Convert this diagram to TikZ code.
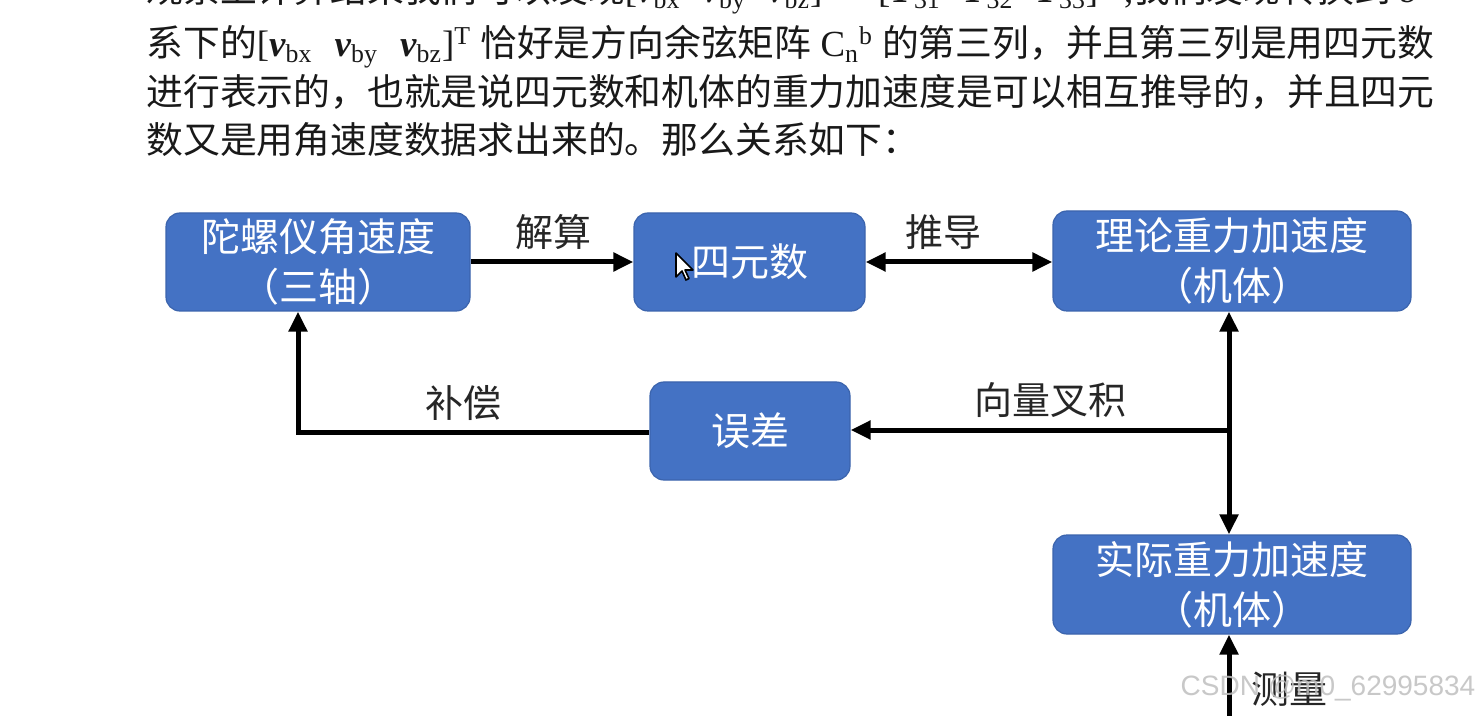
\documentclass[tikz,border=0pt]{standalone}
\usepackage{fontspec}
\setmainfont{Liberation Serif}
\newfontfamily\cjk{Noto Sans CJK SC}
\newfontfamily\wmfont{Liberation Sans}
\usetikzlibrary{arrows.meta}
\definecolor{boxblue}{HTML}{4472C4}
\definecolor{boxedge}{HTML}{3B64AD}
\newcommand{\vv}[1]{\textbf{\textit{v}}\textsubscript{#1}}
\newcommand{\TT}[1]{\textbf{\textit{T}}\textsubscript{#1}}
\begin{document}
\begin{tikzpicture}[x=0.5pt,y=-0.5pt,
  box/.style={draw=boxedge, line width=0.6pt, fill=boxblue, rounded corners=7pt,
    text=white, align=center, font=\cjk\fontsize{19.5}{25}\selectfont, inner sep=0pt},
  lbl/.style={text=black!85, font=\cjk\fontsize{19}{23}\selectfont, inner sep=0pt},
  conn/.style={line width=2.5pt, -{Triangle[length=10pt,width=9pt]}},
  dconn/.style={line width=2.5pt, {Triangle[length=10pt,width=9pt]}-{Triangle[length=10pt,width=9pt]}},
  para/.style={anchor=base west, inner sep=0pt, font=\fontsize{18.4}{22}\selectfont, text=black!90}
]
\clip (0,0) rectangle (1482,716);
\fill[white] (0,0) rectangle (1482,716);

% paragraph
\node[para] (p1) at (146,3) {{\cjk 观察上计算结果我们可以发现}[\vv{bx}\hspace{0.6em}\vv{by}\hspace{0.6em}\vv{bz}]\textsuperscript{T} = [\TT{31}\hspace{0.6em}\TT{32}\hspace{0.6em}\TT{33}]\textsuperscript{T} ,{\cjk 我们发现转换到} \textit{b}};
\node[para] (p2) at (146,57) {{\cjk 系下的}[\vv{bx}\hspace{0.6em}\vv{by}\hspace{0.6em}\vv{bz}]\textsuperscript{T} {\cjk 恰好是方向余弦矩阵} C\textsubscript{n}\textsuperscript{b} {\cjk 的第三列，并且第三列是用四元数}};
\node[para] (p3) at (146,106) {{\cjk 进行表示的，也就是说四元数和机体的重力加速度是可以相互推导的，并且四元}};
\node[para] (p4) at (146,154) {{\cjk 数又是用角速度数据求出来的。那么关系如下：}};

% boxes
\node[box, minimum width=152pt, minimum height=49pt] (b1) at (318,262) {陀螺仪角速度\\（三轴）};
\node[box, minimum width=115.5pt, minimum height=49pt] (b2) at (749.5,262) {四元数};
\node[box, minimum width=179pt, minimum height=50pt] (b3) at (1232,261) {理论重力加速度\\（机体）};
\node[box, minimum width=100pt, minimum height=49pt] (b4) at (750,431) {误差};
\node[box, minimum width=179pt, minimum height=49.5pt] (b5) at (1232,584.5) {实际重力加速度\\（机体）};

% connectors
\draw[conn] (b1.east) -- (b2.west);
\draw[dconn] (b2.east) -- (b2.east -| b3.west);
\coordinate (j) at (1229,430);
\draw[dconn] (j |- b3.south) -- (j |- b5.north);
\draw[conn] (j) -- (j -| b4.east);
\coordinate (c) at (298,432);
\draw[conn] (b4.west |- c) -- (c) -- (c |- b1.south);
\coordinate (m) at (1229,716);
\draw[conn] (m) -- (m |- b5.south);

% labels
\node[lbl] (l1) at (553,232) {解算};
\node[lbl] (l2) at (943,232) {推导};
\node[lbl] (l3) at (1050,400) {向量叉积};
\node[lbl] (l4) at (463,403) {补偿};
\node[lbl] (l5) at (1289,689) {测量};

% mouse cursor
\filldraw[fill=white, draw=black, line width=0.8pt, line join=round]
  (676,253) -- ++(0,24) -- ++(6,-6) -- ++(4,9) -- ++(3,-1.5) -- ++(-4,-8.5) -- ++(8,0) -- cycle;

% watermark
\node[font=\wmfont\fontsize{14}{16}\selectfont, text=gray!50, opacity=0.85, inner sep=0pt] (wm) at (1328,688) {CSDN @m0\_62995834};
\end{tikzpicture}
\end{document}
